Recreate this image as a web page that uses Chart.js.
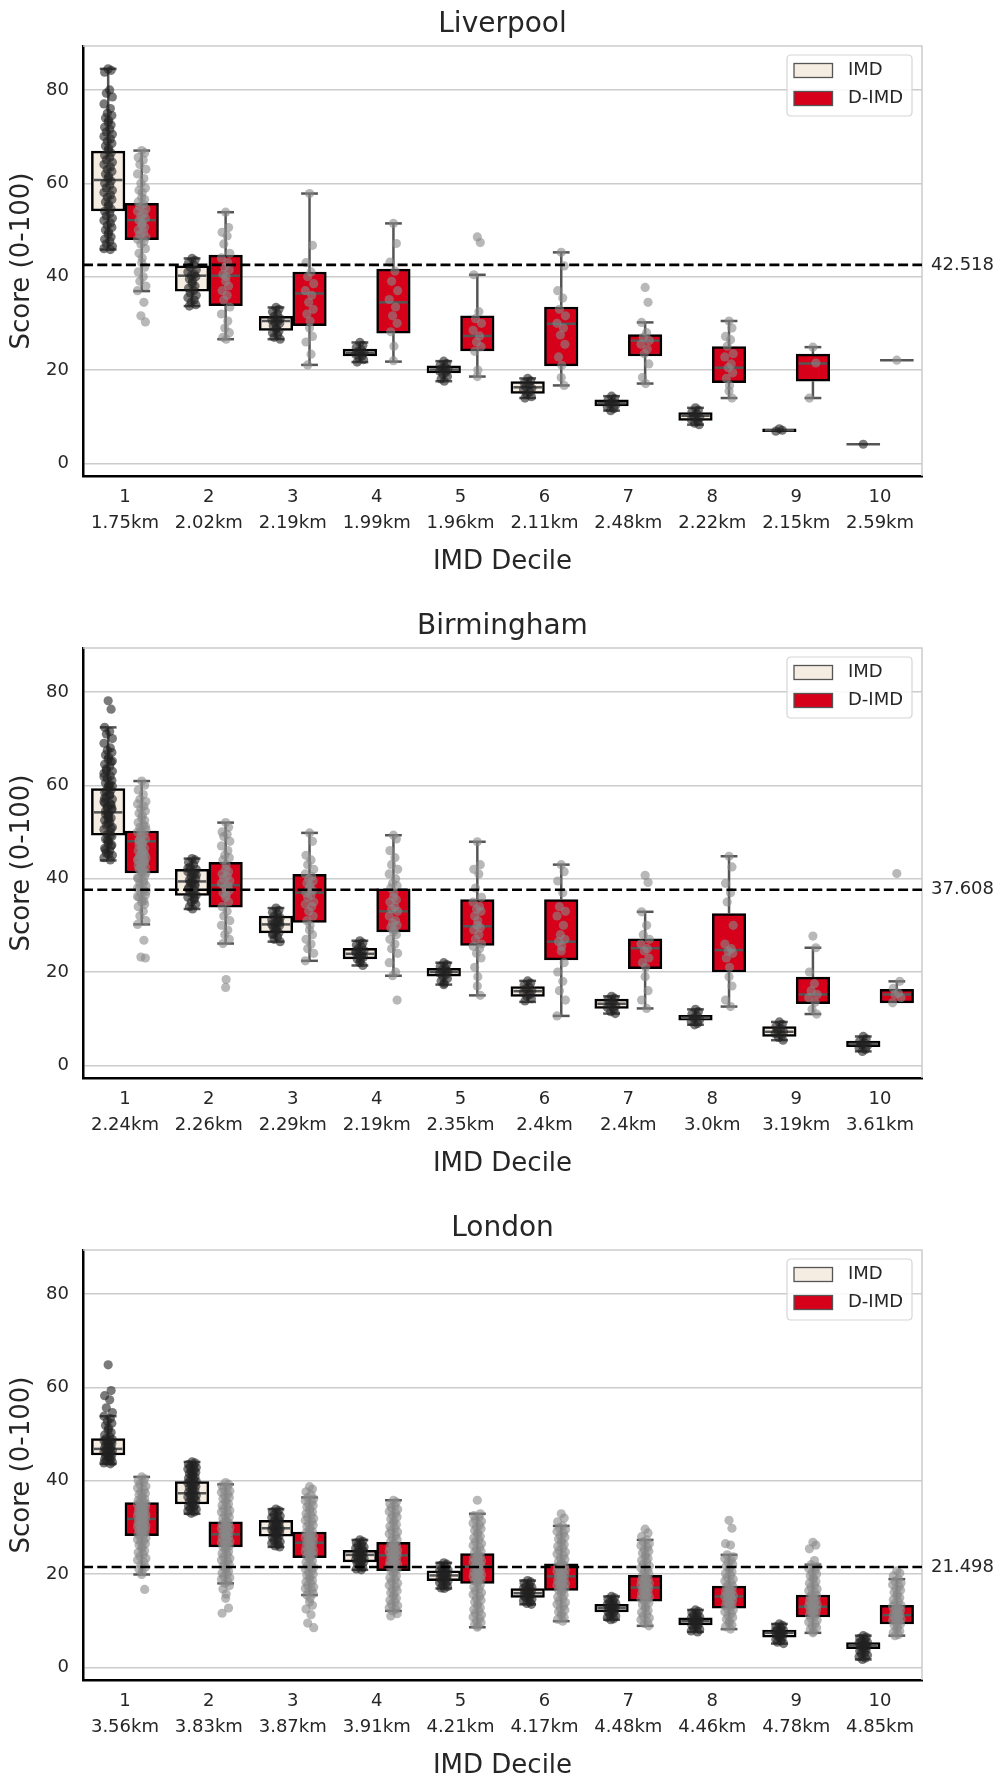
<!DOCTYPE html>
<html><head><meta charset="utf-8">
<script src="https://cdn.jsdelivr.net/npm/chart.js@4.4.1/dist/chart.umd.min.js"></script>
<style>
html,body{margin:0;padding:0;background:#fff;}
body{width:998px;height:1779px;position:relative;overflow:hidden;}
canvas{position:absolute;left:0;}
</style></head><body>
<canvas id="c0" width="998" height="602" style="top:0px"></canvas>
<canvas id="c1" width="998" height="602" style="top:602px"></canvas>
<canvas id="c2" width="998" height="575" style="top:1204px"></canvas>
<script>
// ---------------- DATA ----------------
const cities = ["Liverpool", "Birmingham", "London"];
const deciles = ["1","2","3","4","5","6","7","8","9","10"];
const kmLiverpool  = ["1.75km","2.02km","2.19km","1.99km","1.96km","2.11km","2.48km","2.22km","2.15km","2.59km"];
const kmBirmingham = ["2.24km","2.26km","2.29km","2.19km","2.35km","2.4km","2.4km","3.0km","3.19km","3.61km"];
const kmLondon     = ["3.56km","3.83km","3.87km","3.91km","4.21km","4.17km","4.48km","4.46km","4.78km","4.85km"];
const refValues = [42.518, 37.608, 21.498];
const seriesNames = ["IMD", "D-IMD"];

// Liverpool box stats
const livImdQ1  = [54.1, 36.9, 28.5, 23.0, 19.4, 15.0, 12.3, 9.2, 6.8, 4.1];
const livImdMed = [60.7, 40.2, 30.5, 23.7, 20.1, 16.3, 12.9, 10.2, 7.1, 4.1];
const livImdQ3  = [66.9, 42.3, 31.5, 24.5, 20.9, 17.5, 13.6, 10.9, 7.4, 4.1];
const livImdLo  = [45.8, 33.7, 26.6, 21.7, 17.6, 14.0, 11.3, 8.3, 6.8, 4.1];
const livImdHi  = [84.5, 43.9, 33.4, 25.9, 21.9, 18.2, 14.4, 11.9, 7.4, 4.1];
const livDQ1  = [47.9, 33.8, 29.5, 27.9, 24.1, 20.9, 23.0, 17.3, 17.6, 22.1];
const livDMed = [52.1, 40.2, 36.4, 34.5, 27.3, 29.9, 26.3, 20.5, 21.4, 22.1];
const livDQ3  = [55.7, 44.6, 41.0, 41.6, 31.6, 33.5, 27.6, 25.0, 23.4, 22.1];
const livDLo  = [36.9, 26.6, 21.1, 21.8, 18.6, 16.7, 17.1, 14.0, 14.0, 22.1];
const livDHi  = [67.0, 53.8, 57.8, 51.4, 40.4, 45.2, 30.2, 30.5, 24.9, 22.1];

// Birmingham box stats
const birImdQ1  = [49.3, 36.4, 28.4, 22.8, 19.1, 14.8, 12.2, 9.7, 6.2, 4.0];
const birImdMed = [54.2, 39.4, 30.2, 23.9, 20.0, 15.9, 13.2, 10.2, 7.2, 4.6];
const birImdQ3  = [59.3, 42.0, 32.0, 25.1, 20.8, 16.9, 14.2, 10.7, 8.3, 5.2];
const birImdLo  = [43.9, 33.5, 26.5, 21.4, 17.3, 13.6, 11.1, 8.7, 5.4, 3.0];
const birImdHi  = [72.4, 44.3, 33.7, 26.7, 22.0, 18.1, 14.8, 12.0, 9.3, 6.2];
const birDQ1  = [41.2, 33.9, 30.6, 28.6, 25.7, 22.6, 20.7, 20.0, 13.2, 13.4];
const birDMed = [48.0, 38.6, 37.0, 33.0, 29.8, 26.5, 25.1, 24.7, 15.2, 15.2];
const birDQ3  = [50.2, 43.5, 40.9, 37.8, 35.5, 35.5, 27.1, 32.5, 18.9, 16.3];
const birDLo  = [30.2, 26.1, 22.4, 19.2, 15.0, 10.6, 12.2, 12.6, 11.0, 13.4];
const birDHi  = [60.9, 52.0, 49.8, 49.3, 47.9, 43.0, 32.9, 44.8, 25.2, 18.0];

// London box stats
const lonImdQ1  = [45.5, 35.0, 28.1, 22.6, 18.6, 15.0, 11.9, 9.1, 6.5, 4.0];
const lonImdMed = [46.8, 37.3, 29.8, 24.1, 19.7, 15.9, 12.7, 9.9, 7.4, 4.7];
const lonImdQ3  = [49.0, 39.8, 31.5, 25.1, 20.7, 16.9, 13.5, 10.6, 8.0, 5.3];
const lonImdLo  = [43.6, 32.9, 25.8, 20.9, 16.9, 13.5, 10.2, 7.6, 5.1, 1.7];
const lonImdHi  = [53.8, 44.0, 33.9, 27.3, 22.4, 18.6, 15.2, 12.3, 9.3, 6.8];
const lonDQ1  = [28.2, 25.8, 23.5, 20.7, 18.0, 16.5, 14.2, 12.7, 10.8, 9.3];
const lonDMed = [31.8, 28.5, 26.7, 24.0, 21.6, 19.5, 17.1, 15.2, 13.0, 11.2];
const lonDQ3  = [35.3, 31.2, 29.0, 26.8, 24.4, 22.2, 19.7, 17.4, 15.5, 13.3];
const lonDLo  = [19.9, 18.0, 15.5, 12.1, 8.6, 9.9, 8.9, 8.2, 7.4, 6.8];
const lonDHi  = [40.8, 39.2, 36.4, 35.8, 32.9, 30.3, 27.3, 24.1, 22.0, 18.9];

// Individual observations (strip points), per decile
const livImdPts = [
  [84.5,84.2,83.8,80,79.3,78.5,77,76,75,74.5,74,73.5,73,72.5,72,71.5,71,70.5,70,69.5,69,68.5,68,67.5,67,66.5,66,65.5,65,64.5,64,63.5,63,62.5,62,61.5,61,60.5,60,59.5,59,58.5,58,57.5,57,56.5,56,55.5,55,54.5,54,53.5,53,52.5,52,51.5,51,50.5,50,49.5,49,48.5,48,47.5,47,46.5,46,45.8],
  [43.9,43.5,43,42.5,42,41.5,41,40.5,40.2,40,39.5,39,38.5,38,37.5,37,36.5,36,35.5,35,34.5,34,33.7],
  [33.4,33,32.5,32,31.5,31,30.7,30.5,30.2,30,29.5,29,28.7,28.3,28,27.5,27,26.6],
  [25.9,25.3,24.8,24.3,24,23.7,23.4,23,22.6,22.2,21.7],
  [21.9,21.4,21,20.6,20.3,20.1,19.8,19.5,19.1,18.6,18.1,17.6],
  [18.2,17.7,17.2,16.8,16.4,16.1,15.7,15.3,14.8,14.3,14.0],
  [14.4,13.9,13.5,13.1,12.8,12.5,12.1,11.7,11.3],
  [11.9,11.4,11,10.6,10.2,9.8,9.4,9,8.6,8.3],
  [7.4,7.1,6.9],
  [4.1]
];
const livDPts = [
  [67,66.5,65.5,65,64,63,62,61,60,59,58.5,58,57,56.5,56,55.5,55,54.5,54,53.5,53,52.5,52,51.5,51,50.5,50,49.5,49,48.5,48,47.5,47,46,45,44,43,42,41,40,39,38,37,34.5,31.6,30.3],
  [53.8,50.5,49.5,48.7,47,45,44,43,42,41.5,40.5,40,39,38,37,36,35,33.5,32,30.5,29,28,27,26.6],
  [57.8,46.7,43,41,40,38.5,37,36,34.5,33,32,30.5,29,27.2,26,23.4,21.1],
  [51.4,47.1,43.1,41.2,39,37,35.1,33.5,31.6,30,28.2,25.1,22],
  [48.5,47.3,40.4,32.5,31,30,28.5,27.3,26,25,24,20,18.6],
  [45.2,42.3,37,35.4,33,31.6,30,29,27.5,25.5,22.8,21,18.4,16.7],
  [37.7,34.5,30.2,28,27,26.3,25.5,24.5,23.5,21.3,18.4,17.1],
  [30.5,29,27.2,26.5,25.1,23.5,22.8,21.3,20.5,19.4,18.2,16.7,15.5,14],
  [24.9,21.5,14],
  [22.1]
];
const birImdPts = [
  [78.1,76.3,72.4,71.5,71,70,69,68,67.5,67,66.5,66,65.5,65,64.5,64,63.5,63,62.5,62,61.5,61,60.5,60,59.5,59,58.5,58,57.5,57,56.5,56,55.5,55,54.5,54,53.5,53,52.5,52,51.5,51,50.5,50,49.5,49,48.5,48,47.5,47,46.5,46,45.5,45,44.5,44,55.2,54.8,53.8,52.8,51.8,50.8,56.2,57.8,58.8,59.8,61.8,49.2,48.2,47.2,46.2,45.2,53.2,55.8,57.2,60.2,63.2,65.2],
  [44.3,44,43.5,43,42.5,42,41.5,41,40.5,40,39.7,39.4,39,38.5,38,37.5,37,36.5,36,35.5,35,34.5,34,33.5,41.2,38.8,37.8,36.8,39.2,40.8,42.2,35.8],
  [33.7,33.2,32.8,32.4,32,31.6,31.2,30.8,30.4,30,29.6,29.2,28.8,28.4,28,27.5,27,26.5,30.2,31.4,29.4,30.6,28.2],
  [26.7,26.2,25.8,25.4,25,24.6,24.2,23.9,23.6,23.2,22.8,22.4,22,21.4,24.4,23.4],
  [22,21.6,21.2,20.8,20.4,20.1,19.8,19.4,19,18.6,18.1,17.6,17.3,20.2],
  [18.1,17.6,17.2,16.8,16.4,16,15.6,15.2,14.8,14.3,13.8],
  [14.8,14.4,14,13.6,13.2,12.8,12.4,12,11.5,11.1],
  [12,11.5,11,10.6,10.2,9.8,9.4,9,8.7],
  [9.3,8.8,8.3,7.9,7.5,7.2,6.8,6.4,6,5.4],
  [6.2,5.7,5.2,4.8,4.5,4.2,3.8,3.4,3]
];
const birDPts = [
  [60.9,60,59,58,57,56.5,56,55.5,55,54.5,54,53.5,53,52.5,52,51.5,51,50.5,50,49.5,49,48.5,48,47.5,47,46.5,46,45.5,45,44.5,44,43.5,43,42.5,42,41.5,41,40.5,40,39.5,39,38.5,38,37.5,37,36.5,36,35.5,35,34.5,34,33,32,31,30.2,26.8,23.2,23,48.2,47.8,46.2,45.2,44.2,43.2,42.2,41.2,40.2,39.2,50.2,51.2,47.2,45.8,44.8,43.8,42.8,41.8,38.2,37.2,36.2,35.2],
  [52,51,50,49.5,49,48,47,46,45,44.5,44,43,42,41.5,41,40.5,40,39.5,39,38.5,38,37.5,37,36.5,36,35,34,33,32,31,30,29,28,27,26.1,18.4,16.7],
  [49.8,48,45,44,43,42,41,40.5,40,39.5,39,38.5,38,37.5,37,36.5,36,35,34.5,34,33,32,31,30,29,28,27,26,25,24,22.4],
  [49.3,48.5,46,44.5,43,42,41,40,39,38.5,38,37,36,35.5,35,34,33.5,33,32,31,30.5,30,29.5,29,28.5,28,27,26,25,24,22,20,19.2,14],
  [47.9,43,42,41,38,36,35,34,33.5,33,32,31,30,29.5,29,28,27,26,25.5,25,24,23,21,19,17,15],
  [43,41.5,39.5,37,34,33,32,30,28,27,26.5,25.5,24.5,22,20,18,16,14,10.6],
  [40.7,39.2,32.9,30,28,27,26,25,24.5,23,22,21,19,16,14,12.2],
  [44.8,42.5,39,37,35,30,26,25,24.5,24,23,21,19,17,14,12.6],
  [27.7,25.2,20,17.5,16,15.2,14.5,13.5,12,11],
  [41.1,18,16.5,15.5,15.2,14.5,13.4]
];
const lonImdPts = [
  [64.8,59.3,58.2,57.3,55.6,54.6,53.8,53.3,52.8,52.3,51.8,51.3,50.8,50.3,49.8,49.4,49.0,48.8,48.6,48.4,48.2,48.0,47.8,47.6,47.4,47.2,47.0,46.8,46.6,46.4,46.2,46.0,45.8,45.6,45.4,45.2,45.0,44.8,44.6,44.4,44.2,44.0,43.8,43.6],
  [44.0,43.8,43.5,43.3,43.0,42.8,42.5,42.3,42.0,41.8,41.5,41.3,41.0,40.8,40.5,40.3,40.0,39.8,39.5,39.3,39.0,38.8,38.5,38.3,38.0,37.8,37.5,37.3,37.0,36.8,36.5,36.3,36.0,35.8,35.5,35.3,35.0,34.8,34.5,34.3,34.0,33.8,33.5,33.3,33.0],
  [33.9,33.6,33.3,33.0,32.7,32.4,32.1,31.8,31.5,31.3,31.1,30.9,30.7,30.5,30.3,30.1,29.9,29.7,29.5,29.3,29.1,28.9,28.7,28.5,28.3,28.1,27.8,27.5,27.2,26.9,26.6,26.3,26.0,25.8],
  [27.3,27.0,26.7,26.4,26.1,25.8,25.5,25.3,25.1,24.9,24.7,24.5,24.3,24.1,23.9,23.7,23.5,23.3,23.1,22.9,22.7,22.5,22.3,22.0,21.7,21.4,21.1,20.9],
  [22.4,22.1,21.8,21.5,21.2,20.9,20.7,20.5,20.3,20.1,19.9,19.7,19.5,19.3,19.1,18.9,18.7,18.5,18.2,17.9,17.6,17.3,17.0,16.9],
  [18.6,18.3,18.0,17.7,17.4,17.1,16.9,16.7,16.5,16.3,16.1,15.9,15.7,15.5,15.3,15.1,14.9,14.6,14.3,14.0,13.7,13.5],
  [15.2,14.9,14.6,14.3,14.0,13.7,13.5,13.3,13.1,12.9,12.7,12.5,12.3,12.1,11.9,11.6,11.3,11.0,10.7,10.4,10.2],
  [12.3,12.0,11.7,11.4,11.1,10.8,10.6,10.4,10.2,10.0,9.8,9.6,9.4,9.2,9.0,8.7,8.4,8.1,7.8,7.6],
  [9.3,9.0,8.7,8.4,8.1,7.9,7.7,7.5,7.3,7.1,6.9,6.7,6.5,6.3,6.0,5.7,5.4,5.1],
  [6.8,6.5,6.2,5.9,5.6,5.4,5.2,5.0,4.8,4.6,4.4,4.2,4.0,3.8,3.5,3.2,2.9,2.6,2.3,2.0,1.7]
];
const lonDPts = [
  [40.8,40.4,40.0,39.6,39.2,38.8,38.4,38.0,37.6,37.3,37.0,36.7,36.4,36.1,35.8,35.5,35.3,35.1,34.9,34.7,34.5,34.3,34.1,33.9,33.7,33.5,33.3,33.1,32.9,32.7,32.5,32.3,32.1,31.9,31.7,31.5,31.3,31.1,30.9,30.7,30.5,30.3,30.1,29.9,29.7,29.5,29.3,29.1,28.9,28.7,28.5,28.3,28.0,27.7,27.4,27.1,26.8,26.5,26.2,25.8,25.4,25.0,24.6,24.2,23.8,23.4,23.0,22.5,22.0,21.5,21.0,20.5,19.9,16.7],
  [39.6,39.2,38.9,38.5,38.2,37.8,37.5,37.1,36.8,36.4,36.1,35.7,35.4,35.0,34.7,34.3,34.0,33.6,33.3,32.9,32.6,32.2,31.9,31.5,31.2,31.0,30.7,30.5,30.2,30.0,29.7,29.5,29.2,29.0,28.7,28.5,28.2,28.0,27.7,27.5,27.2,27.0,26.7,26.5,26.2,26.0,25.8,25.5,25.1,24.8,24.4,24.1,23.7,23.4,23.0,22.7,22.3,22.0,21.6,21.3,20.9,20.6,20.2,19.9,19.5,19.2,18.8,18.4,18.0,17.5,16.8,15.7,14.8,12.7,11.6],
  [38.7,38.2,37.6,37.0,36.4,36.1,35.7,35.4,35.0,34.7,34.3,34.0,33.6,33.3,32.9,32.6,32.2,31.9,31.5,31.2,30.8,30.5,30.1,29.8,29.4,29.1,28.8,28.5,28.3,28.0,27.8,27.5,27.3,27.0,26.8,26.5,26.3,26.0,25.8,25.5,25.3,25.0,24.8,24.5,24.3,24.0,23.8,23.5,23.2,22.8,22.5,22.1,21.8,21.4,21.1,20.7,20.4,20.0,19.7,19.3,19.0,18.6,18.3,17.9,17.6,17.2,16.9,16.5,16.2,15.8,15.5,14.8,14.0,13.3,12.5,11.3,9.5,8.5],
  [35.8,35.4,35.0,34.6,34.2,33.8,33.4,33.0,32.6,32.2,31.8,31.4,31.0,30.6,30.2,29.8,29.4,29.0,28.6,28.2,27.8,27.4,27.0,26.6,26.3,26.1,25.8,25.6,25.3,25.1,24.8,24.6,24.3,24.1,23.8,23.6,23.3,23.1,22.8,22.6,22.3,22.1,21.8,21.6,21.3,21.1,20.8,20.4,20.0,19.6,19.2,18.8,18.4,18.0,17.6,17.2,16.8,16.4,16.0,15.6,15.2,14.8,14.4,14.0,13.6,13.2,12.8,12.4,12.1,11.5,11.0],
  [35.8,32.9,32.5,32.1,31.7,31.3,30.9,30.5,30.1,29.7,29.3,28.9,28.5,28.1,27.7,27.3,26.9,26.5,26.1,25.7,25.3,24.9,24.6,24.3,24.0,23.8,23.5,23.3,23.0,22.8,22.5,22.3,22.0,21.8,21.5,21.3,21.0,20.8,20.5,20.3,20.0,19.8,19.5,19.3,19.0,18.8,18.5,18.3,18.0,17.6,17.2,16.8,16.4,16.0,15.6,15.2,14.8,14.4,14.0,13.6,13.2,12.8,12.4,12.0,11.6,11.2,10.8,10.4,10.0,9.6,9.2,8.9,8.6],
  [32.9,32.0,31.2,30.3,29.9,29.5,29.1,28.7,28.3,27.9,27.5,27.1,26.7,26.3,25.9,25.5,25.1,24.7,24.3,23.9,23.5,23.1,22.7,22.4,22.1,21.9,21.6,21.4,21.1,20.9,20.6,20.4,20.1,19.9,19.6,19.4,19.1,18.9,18.6,18.4,18.1,17.9,17.6,17.4,17.1,16.9,16.6,16.3,15.9,15.5,15.1,14.7,14.3,13.9,13.5,13.1,12.7,12.3,11.9,11.5,11.1,10.7,10.3,9.9],
  [29.6,28.8,28.0,27.3,26.9,26.5,26.1,25.7,25.3,24.9,24.5,24.1,23.7,23.3,22.9,22.5,22.1,21.7,21.3,20.9,20.5,20.1,19.7,19.5,19.2,19.0,18.7,18.5,18.2,18.0,17.7,17.5,17.2,17.0,16.7,16.5,16.2,16.0,15.7,15.5,15.2,15.0,14.7,14.5,14.2,13.8,13.4,13.0,12.6,12.2,11.8,11.4,11.0,10.6,10.2,9.8,9.4,8.9],
  [31.5,29.8,26.5,26.2,24.1,23.7,23.3,22.9,22.5,22.1,21.7,21.3,20.9,20.5,20.1,19.7,19.3,18.9,18.5,18.1,17.7,17.4,17.2,16.9,16.7,16.4,16.2,15.9,15.7,15.4,15.2,14.9,14.7,14.4,14.2,13.9,13.7,13.4,13.2,12.9,12.7,12.3,11.9,11.5,11.1,10.7,10.3,9.9,9.5,9.1,8.7,8.2],
  [26.8,26.2,25.4,22.9,22.0,21.6,21.2,20.8,20.4,20.0,19.6,19.2,18.8,18.4,18.0,17.6,17.2,16.8,16.4,16.0,15.7,15.4,15.2,14.9,14.7,14.4,14.2,13.9,13.7,13.4,13.2,12.9,12.7,12.4,12.2,11.9,11.7,11.4,11.2,10.9,10.5,10.1,9.7,9.3,8.9,8.5,8.1,7.7,7.4],
  [20.7,20.2,19.6,18.9,18.5,18.1,17.7,17.3,16.9,16.5,16.1,15.7,15.3,14.9,14.5,14.1,13.7,13.3,13.1,12.8,12.6,12.3,12.1,11.8,11.6,11.3,11.1,10.8,10.6,10.3,10.1,9.8,9.6,9.3,9.0,8.6,8.2,7.8,7.4,7.0,6.8]
];

// ---------------- STYLE ----------------
const FONT = '"DejaVu Sans", sans-serif';
const TXT = '#262626';
const IMD_FILL = '#f5ece2';
const DIMD_FILL = '#d7001a';
const LINE_GREY = '#555555';
const JIT = [0, 0.035, -0.042, 0.018, -0.022, 0.05, -0.05, 0.026, -0.01, 0.044, -0.032, 0.006];
const PLOT_TOP = 46, PLOT_H = 430, AXIS_W = 83, RIGHT_PAD = 76;
const DODGE = 0.2;

Chart.defaults.font.family = FONT;

const panels = [
  { title: cities[0], km: kmLiverpool, ref: refValues[0],
    stats: [[livImdQ1, livImdMed, livImdQ3, livImdLo, livImdHi], [livDQ1, livDMed, livDQ3, livDLo, livDHi]],
    pts: [livImdPts, livDPts] },
  { title: cities[1], km: kmBirmingham, ref: refValues[1],
    stats: [[birImdQ1, birImdMed, birImdQ3, birImdLo, birImdHi], [birDQ1, birDMed, birDQ3, birDLo, birDHi]],
    pts: [birImdPts, birDPts] },
  { title: cities[2], km: kmLondon, ref: refValues[2],
    stats: [[lonImdQ1, lonImdMed, lonImdQ3, lonImdLo, lonImdHi], [lonDQ1, lonDMed, lonDQ3, lonDLo, lonDHi]],
    pts: [lonImdPts, lonDPts] }
];

function boxPlugin(panel) {
  return {
    id: 'boxExtras',
    beforeDatasetsDraw(chart) {
      const {ctx, chartArea: a} = chart;
      ctx.save();
      ctx.strokeStyle = '#cccccc'; ctx.lineWidth = 1.5;
      ctx.beginPath(); ctx.moveTo(a.left, a.top); ctx.lineTo(a.right, a.top); ctx.lineTo(a.right, a.bottom); ctx.stroke();
      ctx.restore();
    },
    afterDatasetDraw(chart, args) {
      const ds = chart.data.datasets[args.index];
      if (!ds.boxStats) return;
      const y = chart.scales.y, ctx = chart.ctx;
      const [q1, med, q3, lo, hi] = ds.boxStats;
      ctx.save();
      ctx.strokeStyle = LINE_GREY; ctx.lineWidth = 2.5; ctx.lineCap = 'butt';
      const seg = (x1, y1, x2, y2) => { ctx.beginPath(); ctx.moveTo(x1, y1); ctx.lineTo(x2, y2); ctx.stroke(); };
      args.meta.data.forEach((el, j) => {
        const x = el.x, w = el.width;
        const yq1 = y.getPixelForValue(q1[j]), yq3 = y.getPixelForValue(q3[j]);
        const ylo = y.getPixelForValue(lo[j]), yhi = y.getPixelForValue(hi[j]);
        const ym = y.getPixelForValue(med[j]);
        const top = Math.min(yq1, yq3), bot = Math.max(yq1, yq3);
        if (yhi < top - 0.5) { seg(x, top, x, yhi); seg(x - w / 4, yhi, x + w / 4, yhi); }
        if (ylo > bot + 0.5) { seg(x, bot, x, ylo); seg(x - w / 4, ylo, x + w / 4, ylo); }
        const inset = (bot - top) > 1 ? 2.5 : 0;
        seg(x - w / 2 + inset, ym, x + w / 2 - inset, ym);
      });
      ctx.restore();
    },
    afterDatasetsDraw(chart) {
      const {ctx, chartArea: a} = chart;
      const yr = chart.scales.y.getPixelForValue(panel.ref);
      ctx.save();
      ctx.strokeStyle = '#000'; ctx.lineWidth = 2.6; ctx.setLineDash([10, 4.3]);
      ctx.beginPath(); ctx.moveTo(a.left, yr); ctx.lineTo(a.right, yr); ctx.stroke();
      ctx.setLineDash([]);
      ctx.fillStyle = TXT; ctx.font = '18px ' + FONT; ctx.textAlign = 'left'; ctx.textBaseline = 'middle';
      ctx.fillText(String(panel.ref), a.right + 9, yr);
      ctx.restore();
    },
    afterDraw(chart) {
      const {ctx, chartArea: a} = chart;
      const cx = (a.left + a.right) / 2;
      ctx.save();
      ctx.fillStyle = TXT; ctx.textAlign = 'center'; ctx.textBaseline = 'middle';
      ctx.font = '28px ' + FONT;
      ctx.fillText(panel.title, cx, 25);
      ctx.font = '26px ' + FONT;
      ctx.fillText('IMD Decile', cx, 562);
      ctx.save();
      ctx.translate(22, (a.top + a.bottom) / 2); ctx.rotate(-Math.PI / 2);
      ctx.fillText('Score (0-100)', 0, 0);
      ctx.restore();
      // legend
      const bx = a.right - 135, by = a.top + 9, bw = 125, bh = 61, r = 4;
      ctx.beginPath();
      ctx.moveTo(bx + r, by); ctx.lineTo(bx + bw - r, by); ctx.quadraticCurveTo(bx + bw, by, bx + bw, by + r);
      ctx.lineTo(bx + bw, by + bh - r); ctx.quadraticCurveTo(bx + bw, by + bh, bx + bw - r, by + bh);
      ctx.lineTo(bx + r, by + bh); ctx.quadraticCurveTo(bx, by + bh, bx, by + bh - r);
      ctx.lineTo(bx, by + r); ctx.quadraticCurveTo(bx, by, bx + r, by); ctx.closePath();
      ctx.fillStyle = 'rgba(255,255,255,0.85)'; ctx.fill();
      ctx.strokeStyle = '#d6d6d6'; ctx.lineWidth = 1.2; ctx.stroke();
      const fills = [IMD_FILL, DIMD_FILL];
      const rows = [24.5, 52.5];
      ctx.font = '18px ' + FONT; ctx.textAlign = 'left';
      for (let k = 0; k < 2; k++) {
        const yy = a.top + rows[k];
        ctx.fillStyle = fills[k]; ctx.fillRect(a.right - 128, yy - 7, 38.5, 14);
        ctx.strokeStyle = LINE_GREY; ctx.lineWidth = 1.3; ctx.strokeRect(a.right - 128, yy - 7, 38.5, 14);
        ctx.fillStyle = TXT; ctx.fillText(seriesNames[k], a.right - 74, yy);
      }
      ctx.restore();
    }
  };
}

panels.forEach((panel, p) => {
  const canvas = document.getElementById('c' + p);
  const H = canvas.height;
  const labels = deciles.map((d, i) => [d, panel.km[i]]);
  const datasets = [];
  [0, 1].forEach(s => {
    const st = panel.stats[s];
    const off = s === 0 ? -DODGE : DODGE;
    datasets.push({
      type: 'bar', label: seriesNames[s], order: 2, xAxisID: 'xb', yAxisID: 'y',
      data: st[0].map((q1, i) => ({ x: i + off, y: [q1, st[2][i]] })),
      boxStats: st,
      backgroundColor: s === 0 ? IMD_FILL : DIMD_FILL,
      borderColor: '#000000', borderWidth: 2.5, borderSkipped: false,
      grouped: false, categoryPercentage: 1.0, barPercentage: 1.0
    });
  });
  [0, 1].forEach(s => {
    const pts = [];
    const off = s === 0 ? -DODGE : DODGE;
    panel.pts[s].forEach((vals, i) => {
      vals.forEach((v, k) => pts.push({ x: i + off + JIT[k % JIT.length], y: v }));
    });
    datasets.push({
      type: 'scatter', label: seriesNames[s] + ' points', order: 0, xAxisID: 'xp', yAxisID: 'y',
      data: pts, pointRadius: 4.6, pointBorderWidth: 0, pointHoverRadius: 0, grouped: false,
      backgroundColor: s === 0 ? 'rgba(34,34,34,0.6)' : 'rgba(136,136,136,0.6)',
      borderColor: 'rgba(0,0,0,0)', showLine: false
    });
  });
  new Chart(canvas, {
    type: 'bar',
    data: { labels, datasets },
    options: {
      responsive: false, animation: false, devicePixelRatio: 1, events: [],
      layout: { padding: { top: PLOT_TOP, right: RIGHT_PAD, left: 0, bottom: 0 } },
      plugins: { legend: { display: false }, title: { display: false }, tooltip: { enabled: false } },
      scales: {
        x: {
          type: 'category', offset: true,
          grid: { display: false, drawTicks: false },
          border: { display: true, color: '#000', width: 2.5 },
          ticks: { color: TXT, font: { size: 18, lineHeight: 26 / 18 }, padding: 8, maxRotation: 0, autoSkip: false },
          afterFit: sc => { sc.height = H - PLOT_TOP - PLOT_H; }
        },
        xb: { type: 'linear', display: false, min: -0.5, max: 9.5, offset: false, ticks: { stepSize: 1 } },
        xp: { type: 'linear', display: false, min: -0.5, max: 9.5, offset: false, ticks: { stepSize: 1 } },
        y: {
          type: 'linear', min: -2.7, max: 89.4,
          grid: { color: '#cccccc', lineWidth: 1.5, drawTicks: false },
          border: { display: true, color: '#000', width: 2.5 },
          ticks: { stepSize: 20, includeBounds: false, color: TXT, font: { size: 18 }, padding: 14 },
          afterFit: sc => { sc.width = AXIS_W; }
        }
      }
    },
    plugins: [boxPlugin(panel)]
  });
});
</script>
</body></html>
